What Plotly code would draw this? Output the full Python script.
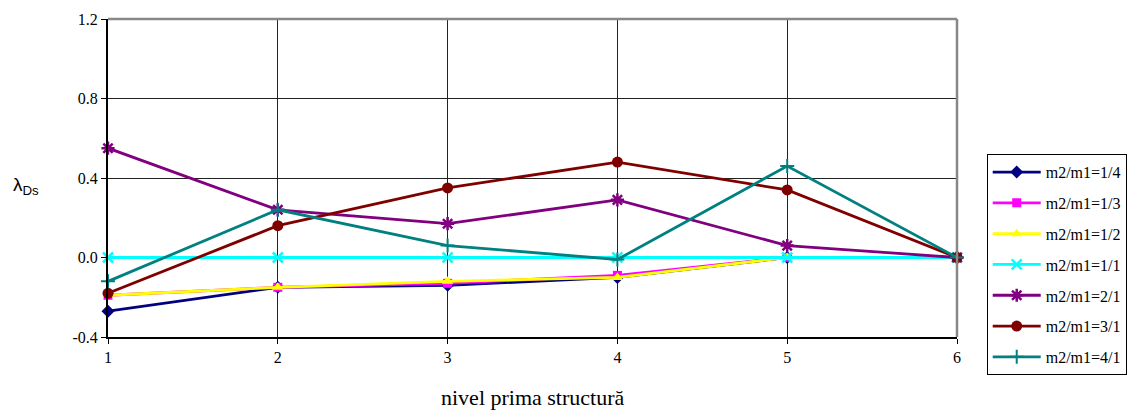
import plotly.graph_objects as go

x_levels = [1, 2, 3, 4, 5, 6]
series_names = ["m2/m1=1/4", "m2/m1=1/3", "m2/m1=1/2", "m2/m1=1/1",
                "m2/m1=2/1", "m2/m1=3/1", "m2/m1=4/1"]
r_1_4 = [-0.27, -0.15, -0.14, -0.10, 0.0, 0.0]
r_1_3 = [-0.19, -0.15, -0.13, -0.09, 0.0, 0.0]
r_1_2 = [-0.19, -0.15, -0.12, -0.10, 0.0, 0.0]
r_1_1 = [0.0, 0.0, 0.0, 0.0, 0.0, 0.0]
r_2_1 = [0.55, 0.24, 0.17, 0.29, 0.06, 0.0]
r_3_1 = [-0.18, 0.16, 0.35, 0.48, 0.34, 0.0]
r_4_1 = [-0.12, 0.24, 0.06, -0.01, 0.46, 0.0]
y_ticks = [-0.4, 0.0, 0.4, 0.8, 1.2]

SERIF = "Times New Roman"
SANS = "Liberation Sans"

styles = [
    dict(color="#000080", symbol="diamond", size=10, lw=0),
    dict(color="#FF00FF", symbol="square", size=9, lw=0),
    dict(color="#FFFF00", symbol="triangle-up", size=10, lw=0),
    dict(color="#00FFFF", symbol="x-thin-open", size=10, lw=2.5),
    dict(color="#800080", symbol="asterisk-open", size=11, lw=2.5),
    dict(color="#800000", symbol="circle", size=11, lw=0),
    dict(color="#008080", symbol="cross-thin-open", size=10, lw=2),
]
all_y = [r_1_4, r_1_3, r_1_2, r_1_1, r_2_1, r_3_1, r_4_1]

fig = go.Figure()
for i, (name, ys, st) in enumerate(zip(series_names, all_y, styles)):
    fig.add_trace(go.Scatter(
        x=x_levels, y=ys, name=name, mode="lines+markers",
        legendgroup="g%d" % i,
        line=dict(color=st["color"], width=2.8),
        marker=dict(symbol=st["symbol"], size=st["size"], color=st["color"],
                    line=dict(color=st["color"], width=st["lw"])),
        cliponaxis=False,
    ))

fig.update_layout(
    width=1131, height=412,
    margin=dict(l=108, r=174, t=19, b=75, autoexpand=False),
    plot_bgcolor="white", paper_bgcolor="white",
    font=dict(family=SERIF, size=16, color="black"),
    showlegend=True,
    legend=dict(x=1.035, y=0.575, xanchor="left", yanchor="top",
                bordercolor="black", borderwidth=1, bgcolor="white",
                font=dict(family=SERIF, size=16, color="black"),
                tracegroupgap=7, itemwidth=48),
    xaxis=dict(range=[1, 6], tickmode="array", tickvals=x_levels,
               showgrid=True, gridcolor="#222222", gridwidth=1,
               showline=True, linecolor="black", linewidth=2,
               ticks="outside", ticklen=5, tickcolor="black",
               zeroline=False, mirror=False,
               tickfont=dict(family=SERIF, size=16, color="black")),
    yaxis=dict(range=[-0.4, 1.2], tickmode="array", tickvals=y_ticks,
               ticktext=["%.1f" % v for v in y_ticks],
               showgrid=True, gridcolor="#222222", gridwidth=1,
               showline=True, linecolor="black", linewidth=2,
               ticks="outside", ticklen=5, tickcolor="black",
               zeroline=False,
               tickfont=dict(family=SERIF, size=16, color="black")),
)

# gray top and right frame
fig.add_shape(type="line", xref="paper", yref="paper", x0=0, x1=1, y0=1, y1=1,
              line=dict(color="#888888", width=2.5))
fig.add_shape(type="line", xref="paper", yref="paper", x0=1, x1=1, y0=0, y1=1,
              line=dict(color="#888888", width=2.5))

fig.add_annotation(text="λ<sub>Ds</sub>", xref="paper", yref="paper",
                   x=-0.114, y=0.475, xanchor="left", yanchor="middle",
                   showarrow=False,
                   font=dict(family=SANS, size=19, color="black"))
fig.add_annotation(text="nivel prima structură", xref="paper", yref="paper",
                   x=0.5, y=-0.19, xanchor="center", yanchor="middle",
                   showarrow=False,
                   font=dict(family=SERIF, size=22, color="black"))

fig.write_html("out.html")
